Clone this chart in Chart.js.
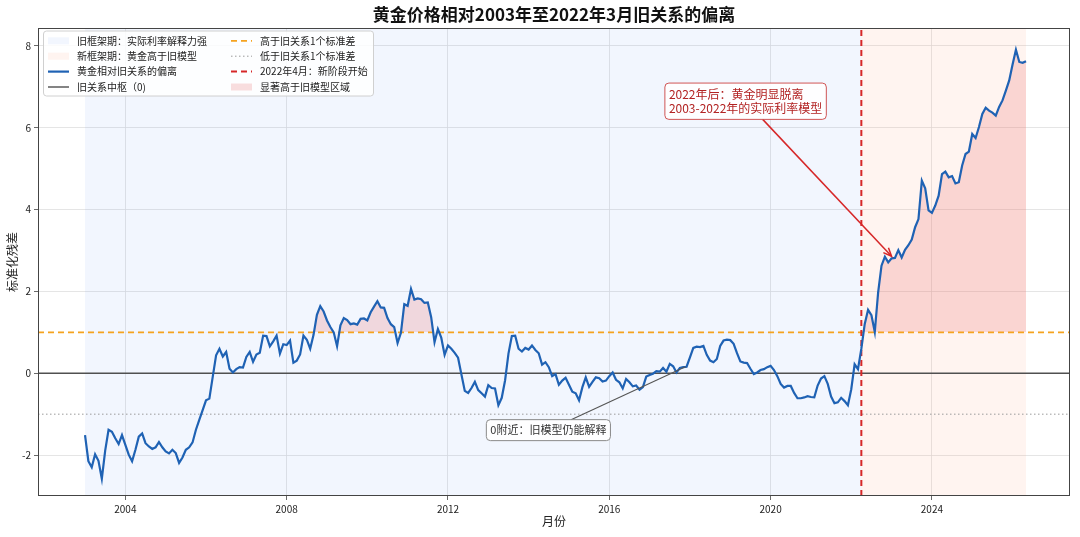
<!DOCTYPE html>
<html lang="zh-CN">
<head>
    <meta charset="UTF-8">
    <title>黄金价格相对2003年至2022年3月旧关系的偏离</title>
    <script src="https://cdn.jsdelivr.net/npm/chart.js"></script>
    <style>
        html, body { margin: 0; padding: 0; background: #fff; }
    </style>
</head>
<body>
    <canvas id="myChart" width="1080" height="537"></canvas>
    <script>
        // 月度标准化残差（2003年1月起，每行一年）
        const startYear = 2003;
        const residuals = [
            -1.51, -2.15, -2.30, -1.98, -2.14, -2.58, -1.89, -1.38, -1.43, -1.59, -1.73, -1.51,
            -1.75, -1.99, -2.15, -1.87, -1.55, -1.47, -1.71, -1.79, -1.85, -1.81, -1.68, -1.81,
            -1.91, -1.96, -1.87, -1.95, -2.19, -2.06, -1.87, -1.81, -1.69, -1.38, -1.14, -0.90,
            -0.66, -0.62, -0.09, 0.44, 0.60, 0.41, 0.52, 0.11, 0.02, 0.10, 0.15, 0.14,
            0.40, 0.52, 0.28, 0.46, 0.50, 0.92, 0.91, 0.66, 0.78, 0.92, 0.48, 0.71,
            0.69, 0.80, 0.26, 0.31, 0.46, 0.92, 0.82, 0.60, 0.94, 1.43, 1.64, 1.51,
            1.29, 1.13, 1.00, 0.66, 1.17, 1.35, 1.30, 1.20, 1.22, 1.19, 1.33, 1.34,
            1.29, 1.49, 1.63, 1.76, 1.61, 1.60, 1.35, 1.20, 1.13, 0.74, 0.99, 1.69,
            1.65, 2.06, 1.80, 1.83, 1.81, 1.72, 1.73, 1.37, 0.76, 1.08, 0.87, 0.45,
            0.68, 0.60, 0.50, 0.38, -0.03, -0.43, -0.48, -0.36, -0.21, -0.41, -0.49, -0.57,
            -0.29, -0.36, -0.37, -0.78, -0.60, -0.17, 0.48, 0.91, 0.92, 0.60, 0.53, 0.62,
            0.58, 0.68, 0.57, 0.49, 0.21, 0.27, 0.15, -0.07, -0.02, -0.28, -0.18, -0.11,
            -0.28, -0.45, -0.49, -0.66, -0.34, -0.10, -0.33, -0.21, -0.10, -0.12, -0.20, -0.18,
            -0.07, 0.02, -0.16, -0.22, -0.37, -0.14, -0.22, -0.32, -0.30, -0.40, -0.34, -0.08,
            -0.04, -0.01, 0.05, 0.04, 0.13, 0.04, 0.23, 0.17, 0.02, 0.13, 0.15, 0.16,
            0.39, 0.62, 0.65, 0.64, 0.67, 0.45, 0.31, 0.27, 0.35, 0.67, 0.80, 0.82,
            0.81, 0.72, 0.49, 0.29, 0.26, 0.25, 0.11, -0.02, 0.02, 0.08, 0.10, 0.15,
            0.18, 0.08, -0.07, -0.26, -0.35, -0.31, -0.31, -0.48, -0.61, -0.61, -0.59, -0.56,
            -0.58, -0.59, -0.30, -0.13, -0.07, -0.26, -0.57, -0.73, -0.71, -0.60, -0.68, -0.78,
            -0.39, 0.22, 0.10, 0.60, 1.20, 1.55, 1.42, 1.01, 1.98, 2.63, 2.85, 2.71,
            2.81, 2.82, 3.01, 2.83, 3.02, 3.13, 3.27, 3.57, 3.77, 4.71, 4.52, 3.98,
            3.92, 4.10, 4.34, 4.87, 4.93, 4.79, 4.82, 4.64, 4.67, 5.08, 5.36, 5.42,
            5.85, 5.75, 6.02, 6.34, 6.49, 6.42, 6.37, 6.30, 6.51, 6.67, 6.91, 7.16,
            7.55, 7.91, 7.61, 7.59, 7.63
        ];
        const xTicks = [2004, 2008, 2012, 2016, 2020, 2024];
        const yTicks = [-2, 0, 2, 4, 6, 8];
        const xRange = [2001.834, 2027.424];
        const yRange = [-3, 8.44];
        const breakDate = 2022.25;   // 2022年4月
        const upperBand = 1;
        const lowerBand = -1;
        const centerLine = 0;

        const FONT = '"Noto Sans CJK SC", "Noto Sans", sans-serif';
        const OLD_SPAN = 'rgba(66,133,244,0.07)';
        const NEW_SPAN = 'rgba(250,128,90,0.09)';
        const HIGH_FILL = 'rgba(230,90,90,0.2)';
        const BLUE = '#1f62b4';
        const ORANGE = '#f5a31f';
        const RED = '#d62728';

        const months = residuals.map((_, i) => startYear + i / 12);
        const first = months[0], last = months[months.length - 1];
        const points = residuals.map((v, i) => ({ x: months[i], y: v }));
        const hline = v => [{ x: xRange[0], y: v }, { x: xRange[1], y: v }];

        // 注释
        const notes = [
            { lines: ['2022年后：黄金明显脱离', '2003-2022年的实际利率模型'], at: [2019.38, 6.65],
              target: [2023.0, 2.86], size: 12, color: '#b22222', edge: 'rgba(200,55,55,0.85)', arrow: RED, head: true },
            { lines: ['0附近：旧模型仍能解释'], at: [2014.49, -1.39],
              target: [2017.89, 0.16], size: 11, color: '#333', edge: '#8a8a8a', arrow: '#555', head: false }
        ];

        const legendItems = [
            { col: 0, kind: 'box', color: OLD_SPAN, text: '旧框架期：实际利率解释力强' },
            { col: 0, kind: 'box', color: NEW_SPAN, text: '新框架期：黄金高于旧模型' },
            { col: 0, kind: 'line', color: BLUE, width: 2.2, dash: [], text: '黄金相对旧关系的偏离' },
            { col: 0, kind: 'line', color: '#505050', width: 1.4, dash: [], text: '旧关系中枢（0)' },
            { col: 1, kind: 'line', color: ORANGE, width: 1.8, dash: [6, 4], text: '高于旧关系1个标准差' },
            { col: 1, kind: 'line', color: '#9a9a9a', width: 1, dash: [1.5, 2.5], text: '低于旧关系1个标准差' },
            { col: 1, kind: 'line', color: RED, width: 2, dash: [6, 4], text: '2022年4月：新阶段开始' },
            { col: 1, kind: 'box', color: HIGH_FILL, text: '显著高于旧模型区域' }
        ];

        const decorPlugin = {
            id: 'decor',
            beforeDatasetsDraw(chart) {
                const { ctx, chartArea: a, scales: { x } } = chart;
                ctx.save();
                const x0 = x.getPixelForValue(first), xb = x.getPixelForValue(breakDate), x1 = x.getPixelForValue(last);
                ctx.fillStyle = OLD_SPAN;
                ctx.fillRect(x0, a.top, xb - x0, a.bottom - a.top);
                ctx.fillStyle = NEW_SPAN;
                ctx.fillRect(xb, a.top, x1 - xb, a.bottom - a.top);
                ctx.restore();
            },
            afterDatasetsDraw(chart) {
                const { ctx, chartArea: a, scales: { x, y } } = chart;
                ctx.save();
                ctx.strokeStyle = '#444';
                ctx.lineWidth = 1;
                ctx.strokeRect(a.left + 0.5, a.top + 0.5, a.right - a.left - 1, a.bottom - a.top - 1);

                notes.forEach(n => {
                    ctx.font = n.size + 'px ' + FONT;
                    const lh = n.size * 1.18, pad = 4;
                    const w = Math.max(...n.lines.map(t => ctx.measureText(t).width)) + pad * 2;
                    const h = n.lines.length * lh + pad * 2;
                    const cx = x.getPixelForValue(n.at[0]), cy = y.getPixelForValue(n.at[1]);
                    const tx = x.getPixelForValue(n.target[0]), ty = y.getPixelForValue(n.target[1]);
                    const dx = tx - cx, dy = ty - cy;
                    const t = Math.min(w / 2 / Math.abs(dx), h / 2 / Math.abs(dy));
                    const sx = cx + dx * t, sy = cy + dy * t;
                    ctx.strokeStyle = n.arrow;
                    ctx.lineWidth = n.head ? 1.5 : 1.1;
                    ctx.beginPath();
                    ctx.moveTo(sx, sy);
                    ctx.lineTo(tx, ty);
                    ctx.stroke();
                    if (n.head) {
                        const ang = Math.atan2(dy, dx), L = 9;
                        ctx.beginPath();
                        ctx.moveTo(tx - L * Math.cos(ang - 0.4), ty - L * Math.sin(ang - 0.4));
                        ctx.lineTo(tx, ty);
                        ctx.lineTo(tx - L * Math.cos(ang + 0.4), ty - L * Math.sin(ang + 0.4));
                        ctx.stroke();
                    }
                    ctx.beginPath();
                    ctx.roundRect(cx - w / 2, cy - h / 2, w, h, 4);
                    ctx.fillStyle = 'rgba(255,255,255,0.9)';
                    ctx.fill();
                    ctx.strokeStyle = n.edge;
                    ctx.lineWidth = 1;
                    ctx.stroke();
                    ctx.fillStyle = n.color;
                    ctx.textAlign = 'left';
                    ctx.textBaseline = 'middle';
                    n.lines.forEach((t, i) => ctx.fillText(t, cx - w / 2 + pad, cy - h / 2 + pad + lh * (i + 0.5)));
                });
                ctx.restore();
            },
            afterDraw(chart) {
                const { ctx, chartArea: a } = chart;
                ctx.save();
                const bx = a.left + 5.5, by = a.top + 3, bw = 330, bh = 65;
                ctx.beginPath();
                ctx.roundRect(bx, by, bw, bh, 3);
                ctx.fillStyle = 'rgba(255,255,255,0.85)';
                ctx.fill();
                ctx.strokeStyle = '#d0d0d0';
                ctx.lineWidth = 1;
                ctx.stroke();
                ctx.font = '10px ' + FONT;
                ctx.textBaseline = 'middle';
                ctx.textAlign = 'left';
                const colX = [a.left + 10, a.left + 193];
                const rows = [0, 0];
                legendItems.forEach(it => {
                    const hx = colX[it.col];
                    const ry = a.top + 12.8 + rows[it.col] * 15.4;
                    rows[it.col]++;
                    if (it.kind === 'box') {
                        ctx.fillStyle = it.color;
                        ctx.fillRect(hx, ry - 3.5, 21, 7);
                    } else {
                        ctx.strokeStyle = it.color;
                        ctx.lineWidth = it.width;
                        ctx.setLineDash(it.dash);
                        ctx.beginPath();
                        ctx.moveTo(hx, ry);
                        ctx.lineTo(hx + 21, ry);
                        ctx.stroke();
                        ctx.setLineDash([]);
                    }
                    ctx.fillStyle = '#222';
                    ctx.fillText(it.text, hx + 29, ry);
                });
                ctx.restore();
            }
        };

        Chart.defaults.font.family = FONT;
        Chart.defaults.color = '#222';

        const ctx = document.getElementById('myChart').getContext('2d');
        new Chart(ctx, {
            type: 'line',
            data: {
                datasets: [
                    {
                        label: '显著高于旧模型区域',
                        data: points,
                        borderWidth: 0,
                        pointRadius: 0,
                        fill: { target: { value: upperBand }, above: HIGH_FILL, below: 'rgba(0,0,0,0)' },
                        order: 6
                    },
                    { label: '旧关系中枢（0)', data: hline(centerLine), borderColor: '#505050', borderWidth: 1.4, pointRadius: 0, order: 4 },
                    { label: '高于旧关系1个标准差', data: hline(upperBand), borderColor: ORANGE, borderWidth: 1.8, borderDash: [6, 4], pointRadius: 0, order: 3 },
                    { label: '低于旧关系1个标准差', data: hline(lowerBand), borderColor: '#9a9a9a', borderWidth: 1, borderDash: [1.5, 2.5], pointRadius: 0, order: 3 },
                    {
                        label: '2022年4月：新阶段开始',
                        data: [{ x: breakDate, y: yRange[0] }, { x: breakDate, y: yRange[1] }],
                        borderColor: RED, borderWidth: 2, borderDash: [6, 4], pointRadius: 0, order: 2
                    },
                    { label: '黄金相对旧关系的偏离', data: points, borderColor: BLUE, borderWidth: 2.2, pointRadius: 0, order: 0 }
                ]
            },
            options: {
                responsive: false,
                animation: false,
                events: [],
                layout: { padding: { right: 10 } },
                plugins: {
                    legend: { display: false },
                    tooltip: { enabled: false },
                    title: {
                        display: true,
                        text: '黄金价格相对2003年至2022年3月旧关系的偏离',
                        fullSize: false,
                        color: '#111',
                        font: { size: 17, weight: 'bold' },
                        padding: { top: 4, bottom: 3.6 }
                    }
                },
                scales: {
                    x: {
                        type: 'linear',
                        min: xRange[0],
                        max: xRange[1],
                        afterBuildTicks: s => { s.ticks = xTicks.map(v => ({ value: v })); },
                        afterFit: s => { s.height = 41; },
                        ticks: { callback: v => String(v), font: { size: 10 }, maxRotation: 0, padding: 3 },
                        grid: { color: '#dedede', lineWidth: 0.8, tickColor: '#444', tickLength: 4 },
                        border: { display: false },
                        title: { display: true, text: '月份', font: { size: 12 }, padding: { top: 0, bottom: 8 } }
                    },
                    y: {
                        min: yRange[0],
                        max: yRange[1],
                        afterBuildTicks: s => { s.ticks = yTicks.map(v => ({ value: v })); },
                        afterFit: s => { s.width = 38; },
                        ticks: { font: { size: 10 }, padding: 3 },
                        grid: { color: '#dedede', lineWidth: 0.8, tickColor: '#444', tickLength: 4 },
                        border: { display: false },
                        title: { display: true, text: '标准化残差', font: { size: 12 }, padding: { top: 5, bottom: 0 } }
                    }
                }
            },
            plugins: [decorPlugin]
        });
    </script>
</body>
</html>
